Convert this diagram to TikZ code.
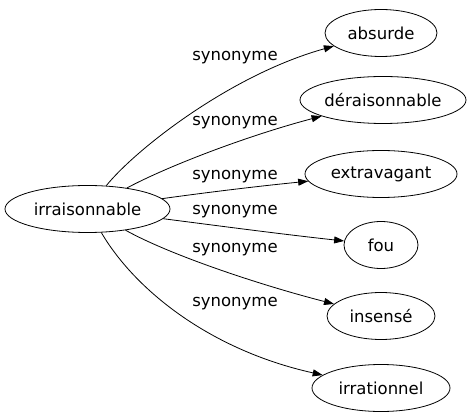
\documentclass[tikz,border=0pt]{standalone}
\usepackage{fontspec}
\setmainfont{DejaVu Sans}
\usetikzlibrary{shapes.geometric,arrows.meta}
\begin{document}
\begin{tikzpicture}[x=1pt,y=-1pt,
  word/.style={ellipse,draw,line width=0.8pt,inner sep=0pt,minimum height=47pt,font=\fontsize{16.5}{18}\selectfont},
  lab/.style={inner sep=0pt,font=\fontsize{16.5}{18}\selectfont},
  edge/.style={draw,line width=0.8pt,-{Triangle[length=10pt,width=7pt]}}]
\useasboundingbox (0,0) rectangle (473,419);
\node[word,minimum width=165pt] (irr) at (87.5,209) {irraisonnable};
\node[word,minimum width=112pt] (abs) at (381,33) {absurde};
\node[word,minimum width=166pt] (der) at (383,100) {déraisonnable};
\node[word,minimum width=152pt] (ext) at (381,174) {extravagant};
\node[word,minimum width=74pt] (fou) at (381,245) {fou};
\node[word,minimum width=108pt] (ins) at (381,316) {insensé};
\node[word,minimum width=138pt] (irt) at (381,388) {irrationnel};
\node[lab] (l1) at (235,58) {synonyme};
\node[lab] (l2) at (235,123) {synonyme};
\node[lab] (l3) at (235,177) {synonyme};
\node[lab] (l4) at (235,212) {synonyme};
\node[lab] (l5) at (235,250) {synonyme};
\node[lab] (l6) at (235,304) {synonyme};
\path[edge] (irr) .. controls (135,150) and (230,75) .. (abs);
\path[edge] (irr) .. controls (170,165) and (250,135) .. (der);
\path[edge] (irr) .. controls (210,192) and (260,186) .. (ext);
\path[edge] (irr) .. controls (220,226) and (280,234) .. (fou);
\path[edge] (irr) .. controls (170,255) and (260,285) .. (ins);
\path[edge] (irr) .. controls (135,290) and (210,350) .. (irt);
\end{tikzpicture}
\end{document}
